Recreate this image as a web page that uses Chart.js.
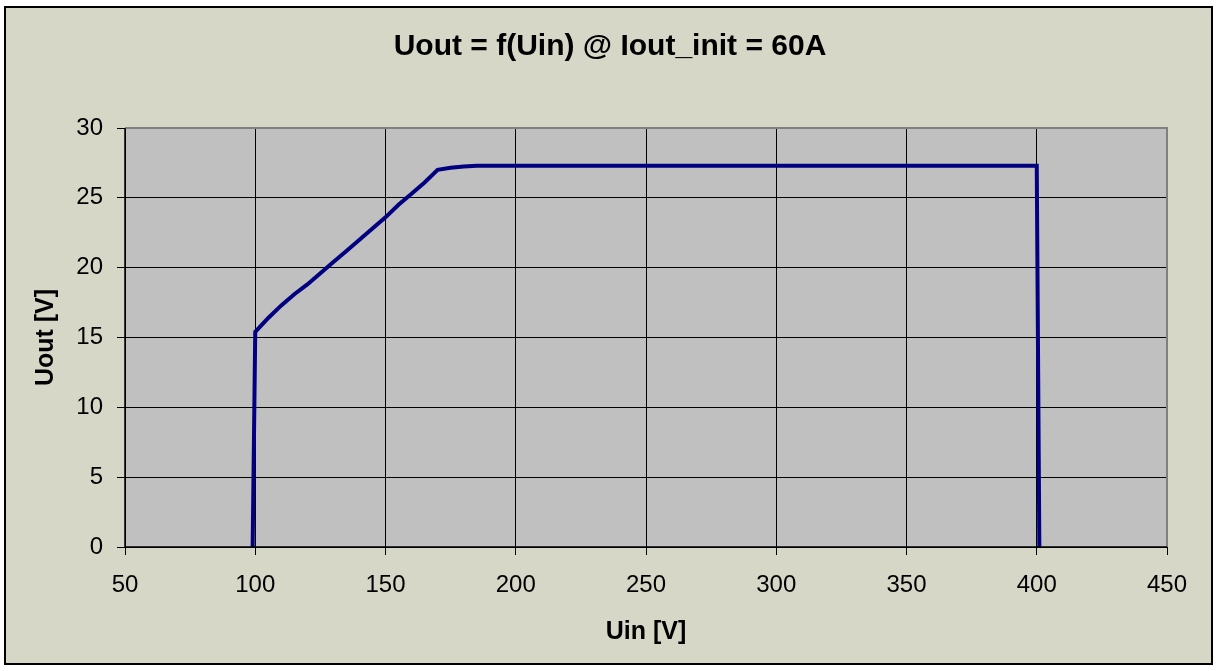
<!DOCTYPE html>
<html>
<head>
<meta charset="utf-8">
<script src="https://cdn.jsdelivr.net/npm/chart.js@4/dist/chart.umd.min.js"></script>
<style>
  html, body { margin: 0; padding: 0; background: #ffffff; }
  #wrap { width: 1220px; height: 671px; position: relative; }
</style>
</head>
<body>
<div id="wrap"><canvas id="c" width="1220" height="671"></canvas></div>
<script>
const chartTitle = 'Uout = f(Uin) @ Iout_init = 60A';
const xTitle = 'Uin [V]';
const yTitle = 'Uout [V]';
const uin  = [99, 100, 105, 110, 115, 120, 125, 130, 135, 140, 145, 150, 155, 160, 165, 170, 175, 180, 185, 400, 401];
const uout = [0, 15.4, 16.4, 17.3, 18.1, 18.8, 19.6, 20.4, 21.2, 22.0, 22.8, 23.6, 24.5, 25.3, 26.1, 27.0, 27.15, 27.25, 27.3, 27.3, 0];
const xMin = 50, xMax = 450, xStep = 50;
const yMin = 0, yMax = 30, yStep = 5;

const points = uin.map((x, i) => ({ x: x, y: uout[i] }));
const FONT = 'Liberation Sans, Arial, sans-serif';

const frame = {
  id: 'frame',
  beforeDraw(chart) {
    const ctx = chart.ctx;
    const a = chart.chartArea;
    ctx.save();
    ctx.fillStyle = '#ffffff';
    ctx.fillRect(0, 0, chart.width, chart.height);
    ctx.fillStyle = '#d7d7c8';
    ctx.fillRect(5, 7, 1207, 657);
    ctx.strokeStyle = '#000000';
    ctx.lineWidth = 2;
    ctx.strokeRect(5, 7, 1207, 657);
    ctx.fillStyle = '#c0c0c0';
    ctx.fillRect(a.left, a.top, a.right - a.left, a.bottom - a.top);
    ctx.fillStyle = '#000000';
    ctx.font = 'bold 30px ' + FONT;
    ctx.textAlign = 'center';
    ctx.textBaseline = 'middle';
    ctx.fillText(chartTitle, 610, 47);
    ctx.restore();
  },
  afterDraw(chart) {
    const ctx = chart.ctx;
    const a = chart.chartArea;
    ctx.save();
    ctx.strokeStyle = '#808080';
    ctx.lineWidth = 2;
    ctx.beginPath();
    ctx.moveTo(a.left, a.top);
    ctx.lineTo(a.right, a.top);
    ctx.lineTo(a.right, a.bottom);
    ctx.stroke();
    ctx.strokeStyle = '#000000';
    ctx.lineWidth = 1.5;
    ctx.beginPath();
    ctx.moveTo(a.left, a.top);
    ctx.lineTo(a.left, a.bottom);
    ctx.lineTo(a.right, a.bottom);
    ctx.stroke();
    ctx.restore();
  }
};

new Chart(document.getElementById('c'), {
  type: 'line',
  data: {
    datasets: [{
      data: points,
      borderColor: '#000080',
      borderWidth: 4,
      pointRadius: 0,
      fill: false,
      tension: 0
    }]
  },
  options: {
    responsive: false,
    animation: false,
    layout: { padding: { left: 0, right: 53, top: 128, bottom: 0 } },
    plugins: {
      legend: { display: false },
      tooltip: { enabled: false },
      title: { display: false }
    },
    scales: {
      x: {
        type: 'linear',
        min: xMin, max: xMax,
        afterFit(s) { s.height = 124; },
        ticks: {
          stepSize: xStep,
          color: '#000000',
          padding: 16,
          maxRotation: 0,
          font: { family: FONT, size: 24 }
        },
        grid: { color: '#000000', lineWidth: 1, tickLength: 8, drawTicks: true },
        border: { display: true, color: '#000000', width: 1 },
        title: {
          display: true,
          text: xTitle,
          color: '#000000',
          font: { family: FONT, size: 25, weight: 'bold' },
          padding: { top: 0, bottom: 24 }
        }
      },
      y: {
        type: 'linear',
        min: yMin, max: yMax,
        afterFit(s) { s.width = 125; },
        ticks: {
          stepSize: yStep,
          color: '#000000',
          padding: 14,
          font: { family: FONT, size: 24 }
        },
        grid: { color: '#000000', lineWidth: 1, tickLength: 8, drawTicks: true },
        border: { display: true, color: '#000000', width: 1 },
        title: {
          display: true,
          text: yTitle,
          color: '#000000',
          font: { family: FONT, size: 25, weight: 'bold' },
          padding: { top: 31, bottom: 0 }
        }
      }
    }
  },
  plugins: [frame]
});
</script>
</body>
</html>
